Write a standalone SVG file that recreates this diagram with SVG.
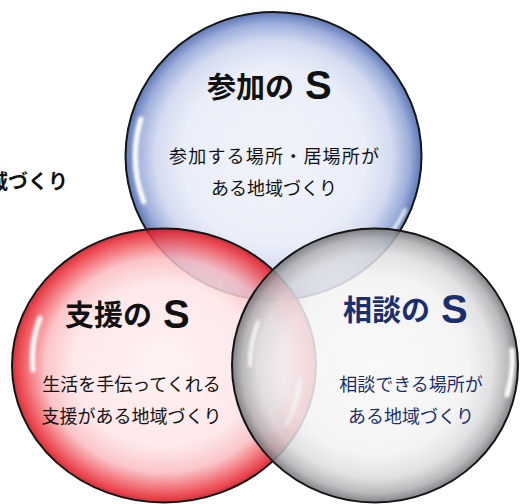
<svg xmlns="http://www.w3.org/2000/svg" width="520" height="504" viewBox="0 0 520 504">
<style>
.rim{stroke:#151515;stroke-width:2;fill-opacity:0.85}
.hl{fill:none;stroke:#ffffff;stroke-linecap:round;filter:url(#blur)}
.title{font-family:"Noto Sans CJK JP","Noto Sans",sans-serif;font-weight:bold;font-size:29px}
.s{font-family:"Liberation Sans","Noto Sans",sans-serif;font-weight:bold;font-size:40px}
.sub{font-family:"Noto Sans CJK JP","Noto Sans",sans-serif;font-size:18px;text-anchor:middle}
.dark{fill:#111111}
.navy{fill:#1b2f6e}
</style>
<defs>
<radialGradient id="gBlue">
<stop offset="0" stop-color="#eef1fa"/>
<stop offset="0.62" stop-color="#e7ebf7"/>
<stop offset="0.8" stop-color="#ccd5ee"/>
<stop offset="0.92" stop-color="#8ea1d5"/>
<stop offset="1" stop-color="#4260a8"/>
</radialGradient>
<radialGradient id="gRed">
<stop offset="0" stop-color="#fff0f1"/>
<stop offset="0.6" stop-color="#fde4e6"/>
<stop offset="0.78" stop-color="#f9bcc0"/>
<stop offset="0.9" stop-color="#f05860"/>
<stop offset="0.97" stop-color="#e4202a"/>
<stop offset="1" stop-color="#b8101a"/>
</radialGradient>
<radialGradient id="gGrey">
<stop offset="0" stop-color="#f8f8f9"/>
<stop offset="0.65" stop-color="#f2f2f3"/>
<stop offset="0.82" stop-color="#dcdcde"/>
<stop offset="0.93" stop-color="#aeaeb2"/>
<stop offset="1" stop-color="#6e6e72"/>
</radialGradient>
<filter id="blur" x="-50%" y="-50%" width="200%" height="200%"><feGaussianBlur stdDeviation="1.5"/></filter>
</defs>
<rect width="520" height="504" fill="#ffffff"/>
<text class="title dark" x="68" y="189" text-anchor="end" style="font-size:20px">域づくり</text>
<g id="circles">
<g id="node-sanka">
<ellipse class="rim" cx="273.5" cy="156" rx="148" ry="144" fill="url(#gBlue)"/>
<path class="hl" stroke-width="5" d="M143.8,201.8 A138,134 0 0 1 140.8,119"/>
<path class="hl" stroke-width="4" opacity="0.8" d="M392,232 A138,134 0 0 0 405,210"/>
</g>
<g id="node-shien">
<ellipse class="rim" cx="164" cy="365.5" rx="152" ry="137" fill="url(#gRed)"/>
<path class="hl" stroke-width="5" d="M33,370 A140,125 0 0 1 40,318"/>
<path class="hl" stroke-width="4" opacity="0.85" d="M286,425 A140,125 0 0 0 300,380"/>
</g>
<g id="node-soudan">
<ellipse class="rim" cx="375" cy="365.5" rx="143" ry="137" fill="url(#gGrey)"/>
<path class="hl" stroke-width="5" d="M507,395 A132,126 0 0 0 512,350"/>
<path class="hl" stroke-width="4" opacity="0.8" d="M250,365 A132,126 0 0 1 258,322"/>
</g>
</g>
<g id="labels">
<g id="label-sanka">
<text class="title dark" x="207" y="98">参加の</text>
<text class="s dark" x="305" y="99">S</text>
<text class="sub dark" x="274" y="163" textLength="210" lengthAdjust="spacing">参加する場所・居場所が</text>
<text class="sub dark" x="274" y="195">ある地域づくり</text>
</g>
<g id="label-shien">
<text class="title dark" x="65" y="326">支援の</text>
<text class="s dark" x="163" y="328">S</text>
<text class="sub dark" x="131.5" y="391">生活を手伝ってくれる</text>
<text class="sub dark" x="131.5" y="423">支援がある地域づくり</text>
</g>
<g id="label-soudan">
<text class="title navy" x="343" y="321">相談の</text>
<text class="s navy" x="441" y="323">S</text>
<text class="sub navy" x="411" y="391">相談できる場所が</text>
<text class="sub navy" x="411" y="423">ある地域づくり</text>
</g>
</g>
</svg>
